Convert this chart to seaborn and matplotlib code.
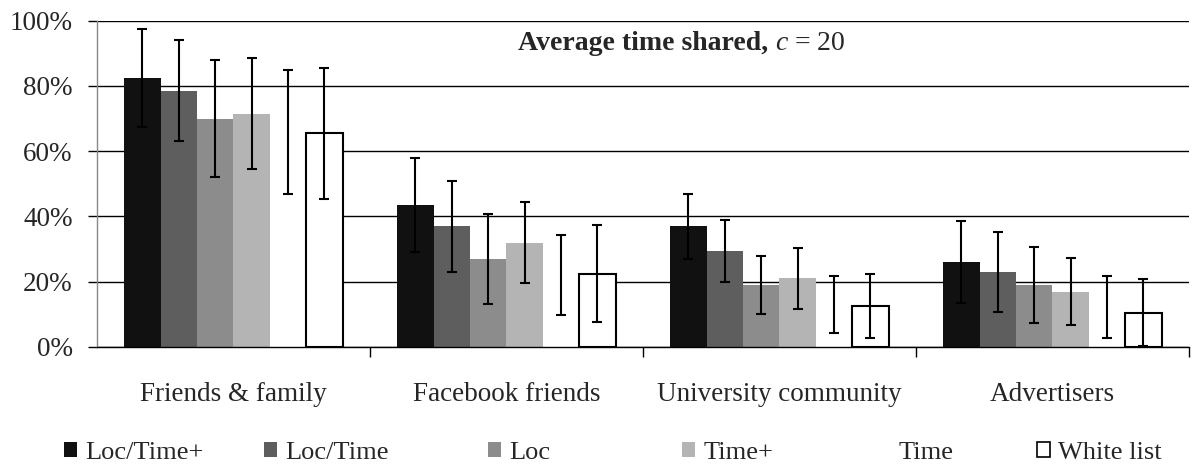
import matplotlib
matplotlib.use("Agg")
import matplotlib.pyplot as plt
import numpy as np
import pandas as pd
import seaborn as sns
from matplotlib.patches import Patch

categories = ["Friends & family", "Facebook friends", "University community", "Advertisers"]
series = ["Loc/Time+", "Loc/Time", "Loc", "Time+", "Time", "White list"]

# mean share (%) per series, one value per category
loc_time_plus = [82.5, 43.5, 37.0, 26.0]
loc_time = [78.5, 37.0, 29.5, 23.0]
loc = [70.0, 27.0, 19.0, 19.0]
time_plus = [71.5, 32.0, 21.0, 17.0]
time = [66.0, 22.0, 13.0, 12.3]
white_list = [65.5, 22.5, 12.6, 10.5]

# error bar half-widths (%)
loc_time_plus_err = [15.0, 14.5, 10.0, 12.5]
loc_time_err = [15.5, 14.0, 9.5, 12.3]
loc_err = [18.0, 13.7, 9.0, 11.7]
time_plus_err = [17.0, 12.5, 9.4, 10.3]
time_err = [19.0, 12.3, 8.8, 9.6]
white_list_err = [20.0, 14.8, 9.8, 10.2]

values = [loc_time_plus, loc_time, loc, time_plus, time, white_list]
errors = [loc_time_plus_err, loc_time_err, loc_err, time_plus_err, time_err, white_list_err]
colors = ["#111111", "#5e5e5e", "#8c8c8c", "#b4b4b4", "#ffffff", "#ffffff"]
edges = ["none", "none", "none", "none", "none", "black"]

rows = []
for s, vals in zip(series, values):
    for c, v in zip(categories, vals):
        rows.append({"category": c, "series": s, "value": v})
df = pd.DataFrame(rows)

sns.set_theme(style="white")
plt.rcParams["font.family"] = ["Liberation Serif", "DejaVu Serif"]
plt.rcParams["mathtext.fontset"] = "custom"
plt.rcParams["mathtext.it"] = "Liberation Serif:italic"
plt.rcParams["mathtext.rm"] = "Liberation Serif"

fig = plt.figure(figsize=(11.96, 4.71), dpi=100)
ax = fig.add_axes([0.0811, 0.2633, 0.9130, 0.6927])

sns.barplot(
    data=df, x="category", y="value", hue="series",
    order=categories, hue_order=series,
    palette=colors, saturation=1, width=0.8,
    errorbar=None, legend=False, ax=ax, zorder=2,
)

for cont, err, ec in zip(ax.containers, errors, edges):
    xs = []
    hs = []
    for bar in cont:
        bar.set_edgecolor(ec)
        bar.set_linewidth(1.5 if ec != "none" else 0)
        xs.append(bar.get_x() + bar.get_width() / 2)
        hs.append(bar.get_height())
    ax.errorbar(xs, hs, yerr=err, fmt="none", ecolor="black",
                elinewidth=1.5, capsize=3.3, capthick=1.5, zorder=3)

ax.set_ylim(0, 100)
ax.set_xlim(-0.5, len(categories) - 0.5)
ax.set_yticks(np.arange(0, 101, 20))
ax.set_yticklabels([f"{v}%" for v in range(0, 101, 20)], fontsize=19.5)
ax.yaxis.grid(True, color="black", linewidth=1)
ax.set_axisbelow(True)
ax.set_xlabel("")
ax.set_ylabel("")
ax.tick_params(axis="y", which="major", left=True, length=6.5, width=1, pad=11, color="black")
ax.tick_params(axis="x", which="major", bottom=True, length=0, pad=25, labelsize=19.5)
ax.set_xticks(np.arange(len(categories)) + 0.5, minor=True)
ax.tick_params(axis="x", which="minor", bottom=True, length=7, width=1, color="black")

for side in ["top", "right"]:
    ax.spines[side].set_visible(False)
ax.spines["left"].set_color("#888888")
ax.spines["left"].set_linewidth(1)
ax.spines["bottom"].set_color("black")
ax.spines["bottom"].set_linewidth(1)

t1 = ax.text(0.3855, 0.929, "Average time shared, ", transform=ax.transAxes,
             fontsize=20, fontweight="bold", ha="left", va="center")
ax.annotate(r"$c$ = 20", xy=(1, 0), xycoords=t1, fontsize=20,
            ha="left", va="bottom")

# legend entries sit in fixed slots like the original
legend_x = [64, 264, 488, 682, 877, 1037]
for s, fc, ec, lx in zip(series, colors, edges, legend_x):
    h = Patch(facecolor=fc, edgecolor=("black" if ec != "none" else "none"), linewidth=1.2)
    fig.legend([h], [s], loc="center left", bbox_to_anchor=(lx / 1196, 0.038),
               frameon=False, fontsize=19, handlelength=0.5, handleheight=0.5,
               handletextpad=0.3, borderpad=0, borderaxespad=0)

fig.savefig("out.png", dpi=100)
